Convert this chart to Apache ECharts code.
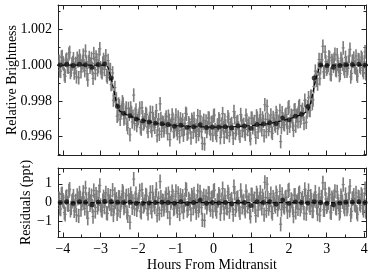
<!DOCTYPE html>
<html><head><meta charset="utf-8">
<script src="https://cdn.jsdelivr.net/npm/echarts@6/dist/echarts.min.js"></script>
<style>html,body{margin:0;padding:0;background:#fff}#c{width:374px;height:277px}</style>
</head><body><div id="c"></div>
<script>
// Two interleaved exposure sets; cadence in hours from midtransit
const cadenceStartA = -4.1, cadenceStartB = -4.08, cadenceStep = 0.04;
// Relative brightness, in ppt relative to 1 (set A)
const fluxPptA = [
 0.21,-0.35,0.48,0.05,-0.62,0.33,-0.12,0.71,-0.28,0.14,
 -0.44,0.09,0.38,-0.71,0.26,-0.05,0.55,-0.31,0.17,-0.83,
 0.42,0.02,-0.19,0.64,-0.47,0.29,-0.08,0.91,-0.36,0.11,
 -0.24,0.52,-0.67,-0.23,-0.25,-1.05,-1.96,-1.26,-1.90,-2.78,
 -2.28,-2.63,-2.06,-3.01,-2.62,-3.31,-2.43,-3.90,-2.65,-2.86,
 -3.28,-2.51,-3.12,-2.84,-3.50,-2.39,-3.30,-3.08,-2.77,-3.72,
 -3.05,-3.45,-2.66,-3.32,-2.94,-3.95,-3.06,-2.17,-3.70,-3.23,
 -3.49,-2.90,-3.84,-3.09,-3.39,-2.79,-3.73,-3.24,-3.61,-2.91,
 -4.01,-3.31,-3.07,-3.56,-2.70,-3.86,-3.23,-3.51,-3.04,-3.75,
 -3.40,-4.00,-2.83,-3.64,-3.18,-4.38,-3.09,-3.45,-3.71,-2.96,
 -3.58,-3.23,-3.92,-2.80,-3.80,-3.37,-3.01,-4.06,-3.30,-3.50,
 -3.08,-3.73,-2.89,-3.95,-3.34,-3.61,-2.60,-3.82,-3.20,-3.53,
 -3.98,-3.11,-3.38,-3.71,-2.81,-3.60,-3.26,-4.12,-2.98,-3.31,
 -3.60,-2.84,-3.75,-3.16,-3.39,-2.96,-3.95,-3.03,-2.31,-3.60,
 -3.14,-3.73,-2.94,-3.32,-2.66,-3.54,-3.13,-4.28,-2.67,-3.28,
 -2.82,-3.13,-2.41,-3.42,-2.81,-3.23,-2.53,-3.41,-2.79,-2.35,
 -3.15,-2.60,-2.75,-1.97,-3.20,-2.34,-2.53,-1.74,-2.15,-1.20,
 -0.34,-0.84,-0.22,-0.76,0.30,1.05,-0.39,0.19,-0.13,0.46,
 -0.50,0.26,-0.07,0.60,-0.31,0.11,-0.58,0.37,0.04,-0.21,
 0.43,-0.34,0.16,0.88,-0.47,0.22,-0.09,0.51,-0.62,0.28,
 -0.15,0.35,-0.42,0.74,-0.26,0.12
];
// Residuals, ppt (set A)
const residPptA = [
 0.21,-0.35,0.48,0.05,-0.62,0.33,-0.12,0.71,-0.28,0.14,
 -0.44,0.09,0.38,-0.71,0.26,-0.05,0.55,-0.31,0.17,-0.83,
 0.42,0.02,-0.19,0.64,-0.47,0.29,-0.08,0.91,-0.36,0.11,
 -0.24,0.52,-0.58,0.07,0.35,-0.15,-0.66,0.44,0.18,-0.39,
 0.27,-0.02,0.61,-0.29,0.13,-0.52,0.39,-1.05,0.24,0.06,
 -0.33,0.47,-0.11,0.19,-0.45,0.68,-0.21,0.03,0.36,-0.57,
 0.12,-0.26,0.55,-0.09,0.31,-0.68,0.22,1.12,-0.40,0.08,
 -0.17,0.43,-0.50,0.26,-0.03,0.58,-0.35,0.15,-0.22,0.49,
 -0.61,0.10,0.34,-0.14,0.72,-0.43,0.20,-0.07,0.40,-0.30,
 0.05,-0.54,0.63,-0.18,0.28,-0.92,0.37,0.01,-0.25,0.50,
 -0.12,0.23,-0.46,0.66,-0.34,0.09,0.45,-0.60,0.16,-0.04,
 0.38,-0.27,0.57,-0.49,0.12,-0.16,0.85,-0.38,0.24,-0.10,
 -0.55,0.31,0.04,-0.30,0.60,-0.20,0.14,-0.73,0.41,0.07,
 -0.23,0.52,-0.40,0.18,-0.06,0.36,-0.64,0.27,0.98,-0.32,
 0.13,-0.48,0.29,-0.11,0.53,-0.37,0.02,-1.15,0.44,-0.19,
 0.25,-0.08,0.62,-0.41,0.17,-0.28,0.39,-0.52,0.06,0.47,
 -0.36,0.15,-0.03,0.70,-0.59,0.21,-0.14,0.34,-0.45,0.10,
 0.56,-0.24,0.08,-0.67,0.30,1.05,-0.39,0.19,-0.13,0.46,
 -0.50,0.26,-0.07,0.60,-0.31,0.11,-0.58,0.37,0.04,-0.21,
 0.43,-0.34,0.16,0.88,-0.47,0.22,-0.09,0.51,-0.62,0.28,
 -0.15,0.35,-0.42,0.74,-0.26,0.12
];
// Relative brightness, ppt (set B)
const fluxPptB = [
 -0.31,0.44,0.12,-0.53,0.27,-0.09,0.62,-0.41,0.06,0.35,
 -0.18,-0.66,0.23,0.51,-0.37,0.14,-0.02,0.78,-0.49,0.19,
 -0.12,0.37,-0.74,0.08,0.45,-0.26,0.58,-0.15,-0.43,0.31,
 0.17,-0.58,0.25,-0.52,-1.09,-0.44,-1.71,-1.87,-2.86,-2.18,
 -3.03,-2.51,-2.18,-2.92,-2.41,-3.50,-2.75,-2.40,-3.18,-1.68,
 -2.74,-3.38,-2.97,-2.41,-3.58,-2.90,-3.21,-2.71,-3.47,-3.20,
 -2.64,-3.67,-3.06,-3.48,-2.55,-3.34,-3.87,-2.99,-3.19,-3.67,
 -3.07,-3.46,-2.86,-4.17,-3.29,-3.03,-3.67,-2.79,-3.83,-3.38,
 -3.01,-3.61,-3.92,-3.27,-2.75,-3.78,-3.33,-4.07,-3.16,-2.99,
 -3.62,-3.38,-3.88,-2.89,-3.73,-3.26,-4.41,-3.13,-3.51,-2.97,
 -3.84,-3.20,-2.85,-3.60,-3.94,-3.34,-3.11,-3.68,-2.72,-4.03,
 -3.42,-3.77,-3.03,-3.54,-3.27,-4.09,-2.94,-3.61,-3.16,-3.83,
 -2.77,-3.67,-3.32,-3.87,-3.08,-3.39,-3.92,-2.97,-3.50,-3.16,
 -4.05,-2.97,-3.37,-2.78,-3.62,-3.15,-2.22,-3.72,-3.05,-3.38,
 -2.79,-3.82,-3.09,-3.41,-2.82,-3.23,-2.55,-3.49,-3.05,-3.34,
 -2.76,-3.53,-2.34,-3.14,-2.85,-3.65,-2.50,-2.85,-3.17,-2.27,
 -2.96,-2.48,-3.26,-2.27,-2.62,-1.83,-2.54,-1.76,-1.95,-0.90,
 -0.67,-1.06,0.31,-0.15,0.29,-0.38,0.73,-0.23,-0.02,0.41,
 -0.54,0.17,0.33,-0.27,0.57,-0.09,-0.47,0.24,0.96,-0.35,
 0.12,-0.20,0.50,-0.66,0.21,0.39,-0.14,-0.51,0.31,-0.06,
 0.44,-0.29,0.18,-0.48,0.07
];
// Residuals, ppt (set B)
const residPptB = [
 -0.31,0.44,0.12,-0.53,0.27,-0.09,0.62,-0.41,0.06,0.35,
 -0.18,-0.66,0.23,0.51,-0.37,0.14,-0.02,0.78,-0.49,0.19,
 -0.12,0.37,-0.74,0.08,0.45,-0.26,0.58,-0.15,-0.43,0.31,
 0.17,-0.55,0.40,-0.07,-0.34,0.66,-0.21,0.03,-0.60,0.29,
 -0.45,0.13,0.52,-0.19,0.36,-0.70,0.09,0.47,-0.28,1.25,
 0.22,-0.39,0.05,0.63,-0.52,0.18,-0.11,0.41,-0.33,-0.04,
 0.54,-0.47,0.16,-0.24,0.71,-0.06,-0.58,0.30,0.11,-0.36,
 0.25,-0.13,0.48,-0.82,0.07,0.34,-0.29,0.60,-0.44,0.02,
 0.39,-0.20,-0.51,0.15,0.67,-0.35,0.10,-0.63,0.28,0.46,
 -0.16,0.08,-0.42,0.57,-0.27,0.20,-0.95,0.33,-0.05,0.49,
 -0.38,0.26,0.61,-0.14,-0.48,0.12,0.35,-0.22,0.74,-0.57,
 0.04,-0.31,0.43,-0.08,0.19,-0.64,0.50,-0.17,0.27,-0.40,
 0.65,-0.25,0.09,-0.46,0.32,0.01,-0.53,0.42,-0.12,0.21,
 -0.69,0.38,-0.03,0.55,-0.30,0.16,1.08,-0.43,0.24,-0.10,
 0.47,-0.58,0.13,-0.21,0.36,-0.07,0.59,-0.37,0.05,-0.26,
 0.30,-0.49,0.68,-0.15,0.11,-0.72,0.40,0.02,-0.33,0.53,
 -0.19,0.25,-0.56,0.37,-0.04,0.64,-0.28,0.14,-0.45,0.20,
 0.08,-0.61,0.46,-0.12,0.29,-0.38,0.73,-0.23,-0.02,0.41,
 -0.54,0.17,0.33,-0.27,0.57,-0.09,-0.47,0.24,0.96,-0.35,
 0.12,-0.20,0.50,-0.66,0.21,0.39,-0.14,-0.51,0.31,-0.06,
 0.44,-0.29,0.18,-0.48,0.07
];
const errPpt = 0.38;
// Binned points
const binX = [-4.07,-3.90,-3.73,-3.56,-3.40,-3.23,-3.06,-2.89,-2.72,-2.55,-2.39,-2.22,-2.05,-1.88,-1.71,-1.54,-1.37,-1.21,-1.04,-0.87,-0.70,-0.53,-0.36,-0.19,-0.03,0.14,0.31,0.48,0.65,0.82,0.99,1.15,1.32,1.49,1.66,1.83,2.00,2.17,2.33,2.50,2.67,2.84,3.01,3.18,3.35,3.51,3.68,3.85,4.02];
const binFluxPpt = [0.00,0.05,-0.03,0.04,0.02,-0.12,0.03,0.06,-0.73,-2.32,-2.70,-2.83,-3.01,-3.12,-3.19,-3.25,-3.28,-3.33,-3.42,-3.36,-3.48,-3.45,-3.34,-3.49,-3.46,-3.48,-3.45,-3.51,-3.40,-3.41,-3.54,-3.32,-3.30,-3.22,-3.27,-2.96,-3.06,-2.86,-2.75,-2.32,-0.73,0.00,-0.03,-0.12,-0.02,0.02,0.03,0.05,0.01];
const binResidPpt = [0.00,0.05,-0.03,0.04,0.02,-0.12,0.03,0.06,0.04,0.02,0.00,0.02,-0.03,-0.04,-0.02,0.00,0.02,0.01,-0.04,0.05,-0.05,0.00,0.12,-0.03,0.00,-0.02,0.01,-0.06,0.03,0.00,-0.15,0.04,0.01,0.05,-0.08,0.14,-0.04,0.03,0.01,-0.02,0.05,0.00,-0.03,-0.12,-0.02,0.02,0.03,0.05,0.01];
// Transit model (ppt)
const modelX = [-4.2,-2.85,-2.8,-2.7,-2.6,-2.55,-2.5,-2.4,-2.2,-2.0,-1.5,-1.0,-0.5,0,0.5,1.0,1.5,2.0,2.2,2.4,2.5,2.55,2.6,2.7,2.8,2.85,4.2];
const modelPpt = [0,0,-0.15,-0.9,-1.9,-2.35,-2.55,-2.7,-2.87,-3.02,-3.27,-3.39,-3.45,-3.47,-3.45,-3.39,-3.27,-3.02,-2.87,-2.7,-2.55,-2.35,-1.9,-0.9,-0.15,0,0];
// Ticks
const xMajor = [-4,-3,-2,-1,0,1,2,3,4];
const xMinor = [-3.5,-2.5,-1.5,-0.5,0.5,1.5,2.5,3.5];
const yTopMajor = [0.996,0.998,1.000,1.002];
const yTopMinor = [0.995,0.997,0.999,1.001,1.003];
const yResMajor = [-1,0,1];
const yResMinor = [-1.5,-0.5,0.5,1.5];

const X_MIN=-4.13, X_MAX=4.045, YT_MIN=0.99497, YT_MAX=1.00336, YR_MIN=-1.83, YR_MAX=1.84;
const FONT = '"Liberation Serif", "DejaVu Serif", serif';
const INK = '#222';
const GRAY = '#7d7d7d';
const toB = v => 1 + v/1000;
const minus = s => String(s).replace('-', '\u2212');

function xAx(grid, pos, ticks, len, showLine, labels){
  return {type:'value', gridIndex:grid, min:X_MIN, max:X_MAX, position:pos,
    axisLine:{show:showLine, onZero:false, lineStyle:{color:INK,width:1}},
    axisTick:{show:true, inside:true, length:len, customValues:ticks, lineStyle:{color:INK,width:1}},
    axisLabel: labels ? {show:true, customValues:ticks, margin:5, color:'#000', fontSize:14, fontFamily:FONT, formatter:v=>minus(v)} : {show:false},
    splitLine:{show:false}};
}
function yAx(grid, pos, min, max, ticks, len, showLine, fmt){
  return {type:'value', gridIndex:grid, min:min, max:max, position:pos,
    axisLine:{show:showLine, onZero:false, lineStyle:{color:INK,width:1}},
    axisTick:{show:true, inside:true, length:len, customValues:ticks, lineStyle:{color:INK,width:1}},
    axisLabel: fmt ? {show:true, customValues:ticks, margin:6, color:'#000', fontSize:14, fontFamily:FONT, formatter:fmt} : {show:false},
    splitLine:{show:false}};
}
const xAxes = [
  xAx(0,'bottom',xMajor,4.5,true,false), xAx(0,'bottom',xMinor,2.5,false,false),
  xAx(0,'top',xMajor,4.5,true,false), xAx(0,'top',xMinor,2.5,false,false),
  xAx(1,'bottom',xMajor,4.5,true,true), xAx(1,'bottom',xMinor,2.5,false,false),
  xAx(1,'top',xMajor,4.5,true,false), xAx(1,'top',xMinor,2.5,false,false)
];
Object.assign(xAxes[4], {name:'Hours From Midtransit', nameLocation:'middle', nameGap:21, nameMoveOverlap:false,
  nameTextStyle:{fontSize:14, fontFamily:FONT, color:'#000'}});
const yAxes = [
  yAx(0,'left',YT_MIN,YT_MAX,yTopMajor,4.5,true,v=>v.toFixed(3)), yAx(0,'left',YT_MIN,YT_MAX,yTopMinor,2.5,false,null),
  yAx(0,'right',YT_MIN,YT_MAX,yTopMajor,4.5,true,null), yAx(0,'right',YT_MIN,YT_MAX,yTopMinor,2.5,false,null),
  yAx(1,'left',YR_MIN,YR_MAX,yResMajor,4.5,true,v=>minus(v)), yAx(1,'left',YR_MIN,YR_MAX,yResMinor,2.5,false,null),
  yAx(1,'right',YR_MIN,YR_MAX,yResMajor,4.5,true,null), yAx(1,'right',YR_MIN,YR_MAX,yResMinor,2.5,false,null)
];
Object.assign(yAxes[0], {name:'Relative Brightness', nameLocation:'middle', nameGap:39, nameRotate:90, nameMoveOverlap:false,
  nameTextStyle:{fontSize:14, fontFamily:FONT, color:'#000'}});
Object.assign(yAxes[4], {name:'Residuals (ppt)', nameLocation:'middle', nameGap:25, nameRotate:90, nameMoveOverlap:false,
  nameTextStyle:{fontSize:14, fontFamily:FONT, color:'#000'}});

function errItem(params, api){
  const x = api.value(0), y = api.value(1), e = api.value(2);
  const a = api.coord([x, y+e]), b = api.coord([x, y-e]), c = api.coord([x, y]);
  return {type:'group', children:[
    {type:'line', shape:{x1:a[0],y1:a[1],x2:b[0],y2:b[1]}, style:{stroke:GRAY, lineWidth:1.6}},
    {type:'line', shape:{x1:c[0]-1.5,y1:c[1],x2:c[0]+1.5,y2:c[1]}, style:{stroke:GRAY, lineWidth:1.2}}
  ]};
}
const series = [];
function addSet(vals, start, isFlux){
  const data = vals.map((v,i)=>[start + i*cadenceStep, isFlux ? toB(v) : v, isFlux ? errPpt/1000 : errPpt]);
  series.push({type:'custom', xAxisIndex:isFlux?0:4, yAxisIndex:isFlux?0:4, data:data, renderItem:errItem, clip:true, silent:true, z:1});
}
addSet(fluxPptA, cadenceStartA, true); addSet(fluxPptB, cadenceStartB, true);
addSet(residPptA, cadenceStartA, false); addSet(residPptB, cadenceStartB, false);
series.push(
  {type:'line', xAxisIndex:0, yAxisIndex:0, data:modelX.map((x,i)=>[x, toB(modelPpt[i])]), showSymbol:false, clip:true,
    lineStyle:{color:'#000', width:1.2, type:[4,2.5]}, z:3, silent:true},
  {type:'line', xAxisIndex:4, yAxisIndex:4, data:[[X_MIN,0],[X_MAX,0]], showSymbol:false, clip:true,
    lineStyle:{color:'#000', width:1.2, type:[4,2.5]}, z:3, silent:true},
  {type:'scatter', xAxisIndex:0, yAxisIndex:0, data:binX.map((x,i)=>[x, toB(binFluxPpt[i])]), symbolSize:5,
    itemStyle:{color:'#111'}, z:4, silent:true},
  {type:'scatter', xAxisIndex:4, yAxisIndex:4, data:binX.map((x,i)=>[x, binResidPpt[i]]), symbolSize:5,
    itemStyle:{color:'#111'}, z:4, silent:true}
);

const chart = echarts.init(document.getElementById('c'), null, {renderer:'canvas'});
chart.setOption({
  animation:false,
  textStyle:{fontFamily:FONT},
  grid:[{left:58, right:8, top:5, height:150, outerBoundsMode:'none'}, {left:58, right:8, top:168, height:69, outerBoundsMode:'none'}],
  xAxis:xAxes, yAxis:yAxes,
  series:series
});
</script></body></html>
